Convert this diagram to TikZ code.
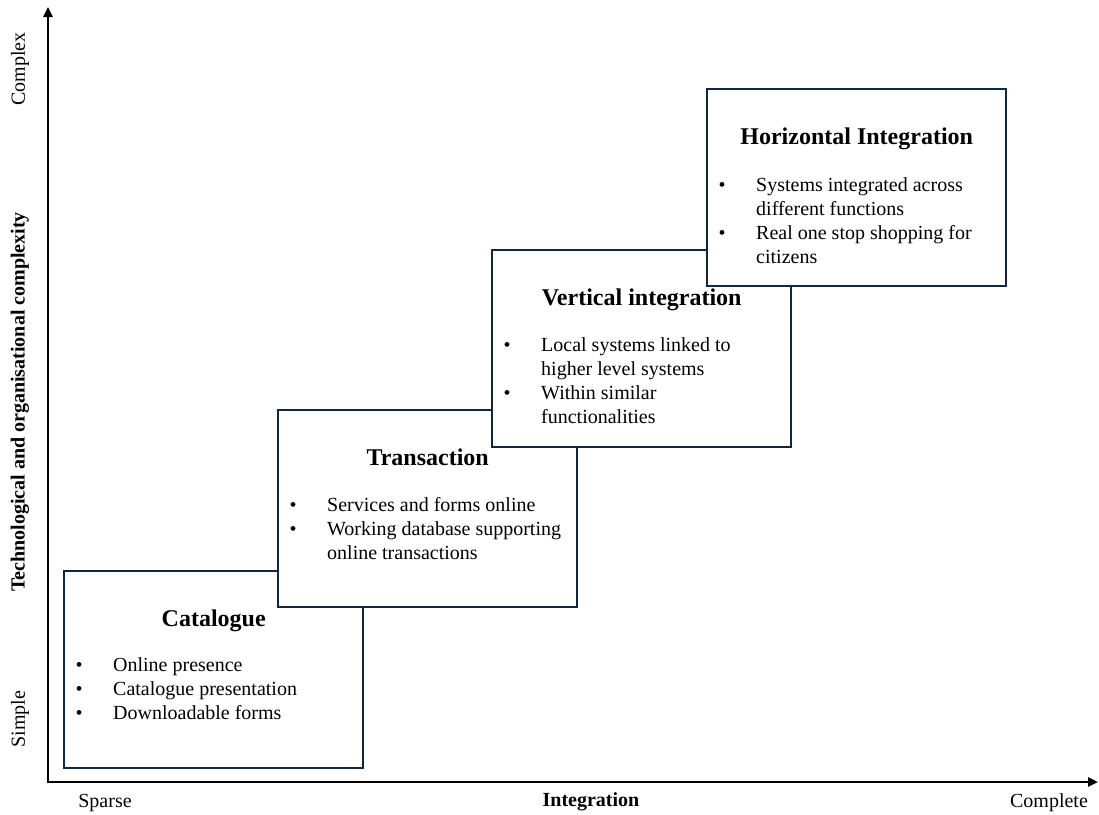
\documentclass[tikz,border=0pt]{standalone}
\usepackage{fontspec}
\setmainfont{Liberation Serif}
\usetikzlibrary{arrows.meta}
\definecolor{boxline}{HTML}{0E2841}
\tikzset{
  stage/.style={draw=boxline, line width=2.4pt, fill=white, rectangle, inner sep=0pt,
    minimum width=299pt, minimum height=197pt, anchor=north west},
  stagetitle/.style={anchor=base, inner sep=0pt, font=\fontsize{24}{28}\selectfont\bfseries},
  stagelist/.style={anchor=base west, inner sep=0pt, font=\fontsize{20}{24}\selectfont},
  axislabel/.style={inner sep=0pt, font=\fontsize{20}{24}\selectfont},
}
\newcommand{\blt}{\makebox[37.5pt][l]{\textbullet}}
\begin{document}
\begin{tikzpicture}[x=1pt,y=-1pt]
\useasboundingbox (0,0) rectangle (1099,814);
% axes
\coordinate (ytop) at (48,7);
\coordinate (O) at (48,782);
\coordinate (xend) at (1098,782);
\draw[line width=2.4pt, {Triangle[width=9pt,length=10pt]}-{Triangle[width=9pt,length=10pt]}] (ytop) -- (O) -- (xend);
\node[axislabel, rotate=90] (complex) at (20,69) {Complex};
\node[axislabel, rotate=90] (simple) at (20,719) {Simple};
\node[axislabel, rotate=90, font=\fontsize{20}{24}\selectfont\bfseries] (ylab) at (20,402) {Technological and organisational complexity};
\node[axislabel] (sparse) at (105,803) {Sparse};
\node[axislabel, font=\fontsize{20}{24}\selectfont\bfseries] (xlab) at (591,802) {Integration};
\node[axislabel] (complete) at (1049,803) {Complete};
% Catalogue
\node[stage] (cat) at (63,570) {};
\node[stagetitle] (catT) at ([yshift=-56pt]cat.north) {Catalogue};
\node[stagelist] (catL) at ([xshift=12.5pt,yshift=-101pt]cat.north west) {\begin{tabular}[t]{@{}l@{}}
\blt Online presence\\
\blt Catalogue presentation\\
\blt Downloadable forms
\end{tabular}};
% Transaction
\node[stage] (tra) at (277,409) {};
\node[stagetitle] (traT) at ([yshift=-56pt]tra.north) {Transaction};
\node[stagelist] (traL) at ([xshift=12.5pt,yshift=-102pt]tra.north west) {\begin{tabular}[t]{@{}l@{}}
\blt Services and forms online\\
\blt Working database supporting\\
\hspace{37.5pt}online transactions
\end{tabular}};
% Vertical
\node[stage] (ver) at (491,249) {};
\node[stagetitle] (verT) at ([yshift=-56pt]ver.north) {Vertical integration};
\node[stagelist] (verL) at ([xshift=12.5pt,yshift=-102pt]ver.north west) {\begin{tabular}[t]{@{}l@{}}
\blt Local systems linked to\\
\hspace{37.5pt}higher level systems\\
\blt Within similar\\
\hspace{37.5pt}functionalities
\end{tabular}};
% Horizontal
\node[stage] (hor) at (706,88) {};
\node[stagetitle] (horT) at ([yshift=-56pt]hor.north) {Horizontal Integration};
\node[stagelist] (horL) at ([xshift=12.5pt,yshift=-103pt]hor.north west) {\begin{tabular}[t]{@{}l@{}}
\blt Systems integrated across\\
\hspace{37.5pt}different functions\\
\blt Real one stop shopping for\\
\hspace{37.5pt}citizens
\end{tabular}};
\end{tikzpicture}
\end{document}
